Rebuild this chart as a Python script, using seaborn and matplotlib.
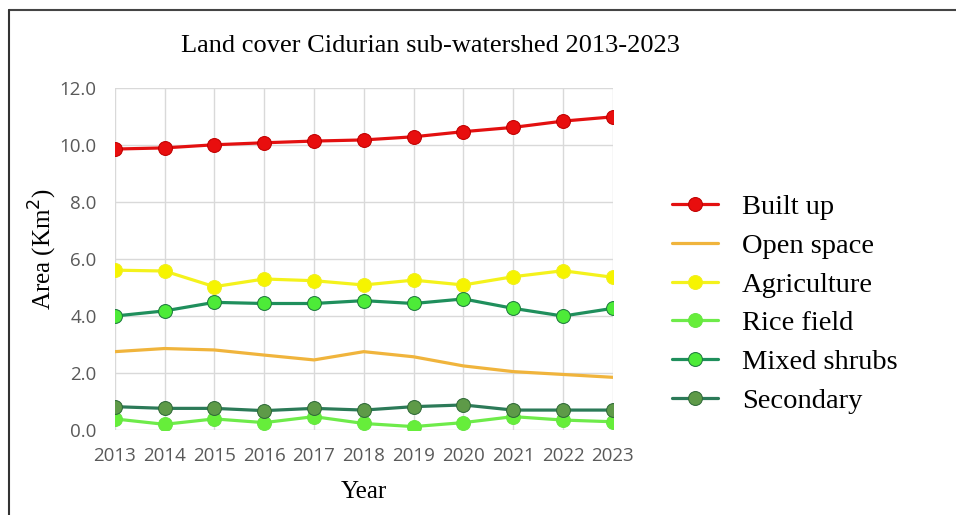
import matplotlib
matplotlib.use("Agg")
import matplotlib.pyplot as plt
import seaborn as sns
import pandas as pd
from matplotlib.lines import Line2D

years = [2013, 2014, 2015, 2016, 2017, 2018, 2019, 2020, 2021, 2022, 2023]
built_up = [9.86, 9.90, 10.01, 10.08, 10.14, 10.18, 10.29, 10.47, 10.62, 10.84, 10.99]
open_space = [2.75, 2.86, 2.81, 2.63, 2.46, 2.75, 2.57, 2.25, 2.05, 1.95, 1.85]
agriculture = [5.61, 5.58, 5.03, 5.30, 5.24, 5.09, 5.26, 5.09, 5.38, 5.59, 5.36]
rice_field = [0.39, 0.20, 0.39, 0.26, 0.47, 0.23, 0.12, 0.26, 0.47, 0.35, 0.29]
mixed_shrubs = [4.00, 4.18, 4.48, 4.44, 4.44, 4.54, 4.44, 4.60, 4.27, 4.00, 4.27]
secondary = [0.82, 0.76, 0.76, 0.68, 0.76, 0.70, 0.82, 0.88, 0.70, 0.70, 0.70]
y_ticks = [0.0, 2.0, 4.0, 6.0, 8.0, 10.0, 12.0]

sns.set_theme(style="whitegrid")
plt.rcParams['font.family'] = ['DejaVu Sans']
plt.rcParams['text.color'] = 'black'

fig = plt.figure(figsize=(9.56, 5.15), dpi=100)
ax = fig.add_axes([0.120, 0.165, 0.521, 0.664])

series = [
    ("Built up", built_up, dict(color="#E31010", marker="o", markersize=10,
                                markerfacecolor="#E80E0E", markeredgecolor="#C00000", linewidth=2.3)),
    ("Open space", open_space, dict(color="#F0B43C", marker=None, linewidth=2.3)),
    ("Agriculture", agriculture, dict(color="#F4F21C", marker="o", markersize=10,
                                      markerfacecolor="#F6F400", markeredgecolor="#F0EE20", linewidth=2.3)),
    ("Rice field", rice_field, dict(color="#6EEB4A", marker="o", markersize=10,
                                    markerfacecolor="#66EE3A", markeredgecolor="#66E642", linewidth=2.3)),
    ("Mixed shrubs", mixed_shrubs, dict(color="#1F8F5C", marker="o", markersize=10,
                                        markerfacecolor="#4DEB38", markeredgecolor="#1F7A40", linewidth=2.3)),
    ("Secondary", secondary, dict(color="#2C7A58", marker="o", markersize=10,
                                  markerfacecolor="#5E9A48", markeredgecolor="#2F6A38", linewidth=2.3)),
]

for name, vals, st in series:
    df = pd.DataFrame({"Year": years, "Area": vals})
    sns.lineplot(data=df, x="Year", y="Area", ax=ax, label=name, **st)

ax.set_xlim(2013, 2023)
ax.set_ylim(0, 12)
ax.set_xticks(years)
ax.set_yticks(y_ticks)
ax.set_yticklabels([f"{v:.1f}" for v in y_ticks])
ax.tick_params(axis="both", labelsize=13.5, labelcolor="#595959", length=0)
ax.tick_params(axis="x", pad=12)
ax.tick_params(axis="y", pad=13)
for lab in ax.get_xticklabels() + ax.get_yticklabels():
    lab.set_family("Open Sans")
ax.grid(True, color="#D9D9D9", linewidth=1.0)
for s in ax.spines.values():
    s.set_visible(False)

ax.set_xlabel("Year", family="Liberation Serif", fontsize=18, color="black", labelpad=12)
ax.set_ylabel("Area (Km$^{2}$)", family="Liberation Serif", fontsize=18, color="black")
ax.yaxis.set_label_coords(-0.112, 0.53)

fig.text(0.450, 0.910, "Land cover Cidurian sub-watershed 2013-2023",
         family="Liberation Serif", fontsize=19, ha="center", va="center", color="black")

h, l = ax.get_legend_handles_labels()
if ax.legend_:
    ax.legend_.remove()
fig.legend(h, l, loc="upper left", bbox_to_anchor=(0.703, 0.623), frameon=False,
           prop={"family": "Liberation Serif", "size": 20.5}, handlelength=1.6,
           handletextpad=0.85, labelspacing=0.45, borderaxespad=0, borderpad=0,
           labelcolor="black")

# page frame (top and left edges)
fig.add_artist(Line2D([0.0095, 1.0], [0.981, 0.981], color="#444444", linewidth=1.5, transform=fig.transFigure))
fig.add_artist(Line2D([0.0095, 0.0095], [0.0, 0.981], color="#333333", linewidth=1.5, transform=fig.transFigure))

fig.savefig("out.png", dpi=100)
